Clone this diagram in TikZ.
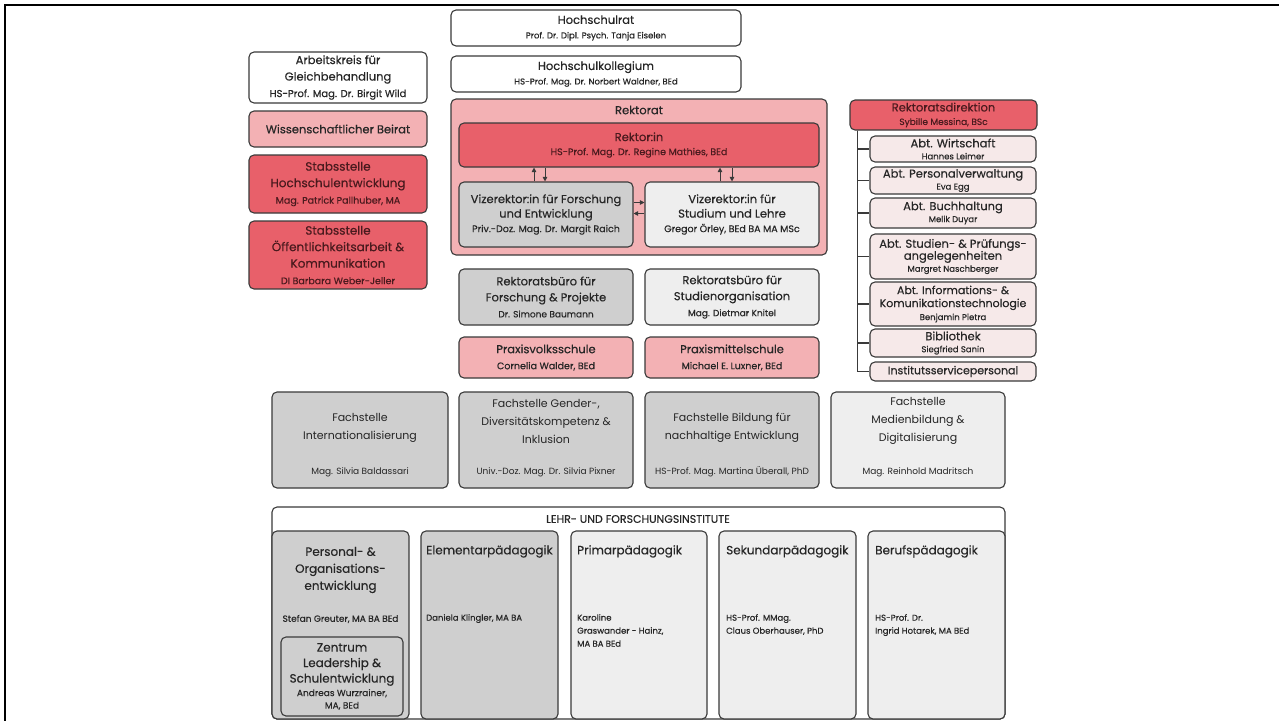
\documentclass[tikz,border=0pt]{standalone}
\usepackage{fontspec}
\setmainfont{Poppins}[FakeBold=0.35]
\newfontfamily\lightf{Poppins}
\usetikzlibrary{arrows.meta}
\definecolor{bd}{HTML}{3A3A3A}
\definecolor{pinkL}{HTML}{F3B1B4}
\definecolor{redM}{HTML}{E8606A}
\definecolor{grayM}{HTML}{CFCFCF}
\definecolor{grayL}{HTML}{EEEEEE}
\definecolor{pinkXL}{HTML}{F6E9E9}
\definecolor{txt}{HTML}{262626}
\definecolor{txtR}{HTML}{4A1A1E}
\newcommand{\T}{\fontsize{11.5}{16}\selectfont}
\newcommand{\Th}{\fontsize{11.5}{14.5}\selectfont}
\newcommand{\Tb}{\fontsize{12}{16.5}\selectfont}
\newcommand{\Sm}{\fontsize{9}{11}\selectfont}
\newcommand{\Sn}{\fontsize{9.5}{11}\selectfont}
\newcommand{\Sh}{\fontsize{8.5}{11}\selectfont}
\newcommand{\A}{\fontsize{11.5}{12}\selectfont}
\newcommand{\As}{\fontsize{8.5}{9}\selectfont}
\newcommand{\F}{\lightf\fontsize{11}{18}\selectfont}
\newcommand{\Fs}{\lightf\fontsize{9}{10}\selectfont}
\newcommand{\bx}[7]{\node[#6,minimum width={#4-#2},minimum height={#5-#3}] (#1) at ({(#2+#4)/2},{(#3+#5)/2}) {#7};}
\tikzset{
 box/.style={draw=bd, line width=1.1pt, rounded corners=5pt, inner sep=0pt, align=center, text=txt, font=\T},
 wbox/.style={box, fill=white},
 pbox/.style={box, fill=pinkL},
 rbox/.style={box, fill=redM, text=txtR},
 gbox/.style={box, fill=grayM},
 lbox/.style={box, fill=grayL},
 xbox/.style={box, fill=pinkXL, font=\A},
 arr/.style={-{Triangle[length=4.5pt,width=4.5pt]}, line width=0.9pt, draw=bd},
 lnk/.style={line width=1.1pt, draw=bd},
 lab/.style={inner sep=0pt, align=center, text=txt},
 labl/.style={inner sep=0pt, align=left, text=txt, anchor=north west},
}
\begin{document}
\begin{tikzpicture}[x=1pt,y=-1pt]
\useasboundingbox (0,0) rectangle (1279,720);
\fill[white] (0,0) rectangle (1279,720);
\draw[line width=2pt,black] (5,721) -- (5,5) -- (1280,5);
% top
\bx{hr}{451}{10}{741}{46}{wbox,font=\Th}{Hochschulrat\\{\Sh Prof. Dr. Dipl. Psych. Tanja Eiselen}}
\bx{hk}{451}{56}{741}{92}{wbox,font=\Th}{Hochschulkollegium\\{\Sh HS-Prof. Mag. Dr. Norbert Waldner, BEd}}
% left column
\bx{ak}{249}{52}{427}{103}{wbox,font=\fontsize{11.5}{16.5}\selectfont}{Arbeitskreis für\\Gleichbehandlung\\{\fontsize{10}{11}\selectfont HS-Prof. Mag. Dr. Birgit Wild}}
\bx{wb}{249}{111}{427}{147}{pbox}{Wissenschaftlicher Beirat}
\bx{she}{249}{155}{427}{213}{rbox,font=\Tb}{Stabsstelle\\Hochschulentwicklung\\{\Sn Mag. Patrick Pallhuber, MA}}
\bx{soa}{249}{221}{427}{289}{rbox,font=\Tb}{Stabsstelle\\Öffentlichkeitsarbeit \&\\Kommunikation\\{\Sn DI Barbara Weber-Jeller}}
% Rektorat
\bx{rkt}{451}{99}{827}{255}{pbox}{}
\node[lab,font=\T] (rktl) at (639,110) {Rektorat};
\bx{rek}{459}{123}{819}{167}{rbox,font=\fontsize{11.5}{14}\selectfont}{Rektor:in\\{\Sn HS-Prof. Mag. Dr. Regine Mathies, BEd}}
\bx{vrf}{459}{182}{633}{247}{gbox,font=\fontsize{11.5}{14.5}\selectfont}{Vizerektor:in für Forschung\\und Entwicklung\\{\Sn Priv.-Doz. Mag. Dr. Margit Raich}}
\bx{vrs}{645}{182}{819}{247}{lbox,font=\fontsize{11.5}{14.5}\selectfont}{Vizerektor:in für\\Studium und Lehre\\{\Sn Gregor Örley, BEd BA MA MSc}}
\draw[arr] ([xshift=-12pt]vrf.north) -- ([xshift=-12pt]vrf.north |- rek.south);
\draw[arr] ([xshift=-1pt]vrf.north |- rek.south) -- ([xshift=-1pt]vrf.north);
\draw[arr] ([xshift=-12pt]vrs.north) -- ([xshift=-12pt]vrs.north |- rek.south);
\draw[arr] ([xshift=0pt]vrs.north |- rek.south) -- ([xshift=0pt]vrs.north);
\draw[arr] ([yshift=12pt]vrf.east) -- ([yshift=12pt]vrs.west);
\draw[arr] ([yshift=1pt]vrs.west) -- ([yshift=1pt]vrf.east);
\bx{rbf}{459}{269}{633}{325}{gbox}{Rektoratsbüro für\\Forschung \& Projekte\\{\Sm Dr. Simone Baumann}}
\bx{rbs}{645}{269}{819}{325}{lbox}{Rektoratsbüro für\\Studienorganisation\\{\Sm Mag. Dietmar Knitel}}
\bx{pvs}{459}{337}{633}{378}{pbox}{Praxisvolksschule\\{\Sn Cornelia Walder, BEd}}
\bx{pms}{645}{337}{819}{378}{pbox}{Praxismittelschule\\{\Sn Michael E. Luxner, BEd}}
% Rektoratsdirektion
\bx{rd}{850}{100}{1037}{130}{rbox,font=\fontsize{11.5}{13.5}\selectfont}{Rektoratsdirektion\\{\fontsize{9}{9}\selectfont Sybille Messina, BSc}}
\bx{a1}{870}{136}{1036}{162}{xbox}{Abt. Wirtschaft\\{\As Hannes Leimer}}
\bx{a2}{870}{167}{1036}{194}{xbox}{Abt. Personalverwaltung\\{\As Eva Egg}}
\bx{a3}{870}{198}{1036}{228}{xbox}{Abt. Buchhaltung\\{\As Melik Duyar}}
\bx{a4}{870}{234}{1036}{279}{xbox}{Abt. Studien- \& Prüfungs-\\angelegenheiten\\{\As Margret Naschberger}}
\bx{a5}{870}{282}{1036}{326}{xbox,font=\fontsize{11}{13}\selectfont}{Abt. Informations- \&\\Komunikationstechnologie\\{\As Benjamin Pietra}}
\bx{a6}{870}{329}{1036}{357}{xbox}{Bibliothek\\{\As Siegfried Sanin}}
\bx{a7}{870}{362}{1036}{381}{xbox,font=\fontsize{11}{12}\selectfont}{Institutsservicepersonal}
\coordinate (trunk) at ([xshift=8pt]rd.south west);
\foreach \b in {a1,a2,a3,a4,a5,a6,a7} {\draw[lnk] (trunk) |- (\b.west);}
% Fachstellen
\bx{f1}{272}{392}{448}{488}{gbox}{}
\bx{f2}{459}{392}{633}{488}{gbox}{}
\bx{f3}{645}{392}{819}{488}{gbox}{}
\bx{f4}{831}{392}{1005}{488}{lbox}{}
\node[lab,font=\F] (f1t) at (360,428) {Fachstelle\\Internationalisierung};
\node[lab,font=\F] (f2t) at (546,421) {Fachstelle Gender-,\\Diversitätskompetenz \&\\Inklusion};
\node[lab,font=\F] (f3t) at (732,428) {Fachstelle Bildung für\\nachhaltige Entwicklung};
\node[lab,font=\F] (f4t) at (918,421) {Fachstelle\\Medienbildung \&\\Digitalisierung};
\node[lab,font=\Fs] (f1n) at (360,472) {Mag. Silvia Baldassari};
\node[lab,font=\Fs] (f2n) at (546,472) {Univ.-Doz. Mag. Dr. Silvia Pixner};
\node[lab,font=\Fs] (f3n) at (732,472) {HS-Prof. Mag. Martina Überall, PhD};
\node[lab,font=\Fs] (f4n) at (918,472) {Mag. Reinhold Madritsch};
% Institute
\bx{lfi}{272}{507}{1005}{719}{wbox}{}
\node[lab,font=\fontsize{11}{13}\selectfont] (lfit) at (638,519) {LEHR- UND FORSCHUNGSINSTITUTE};
\bx{i1}{272}{531}{409}{719}{gbox}{}
\bx{i2}{421}{531}{558}{719}{gbox}{}
\bx{i3}{571}{531}{707}{719}{lbox}{}
\bx{i4}{719}{531}{856}{719}{lbox}{}
\bx{i5}{868}{531}{1005}{719}{lbox}{}
\node[lab,font=\fontsize{12}{17}\selectfont] (i1t) at (340.5,570) {Personal- \&\\Organisations-\\entwicklung};
\node[lab,font=\Sm] (i1n) at (340.5,619) {Stefan Greuter, MA BA BEd};
\bx{zl}{281}{637}{403}{716}{gbox,font=\fontsize{12}{15.5}\selectfont}{Zentrum\\Leadership \&\\Schulentwicklung\\[-2pt]{\Sm Andreas Wurzrainer,}\\[-3pt]{\Sm MA, BEd}}
\node[labl,font=\fontsize{12}{14}\selectfont] (i2t) at (426,545) {Elementarpädagogik};
\node[labl,font=\fontsize{8.5}{13}\selectfont] (i2n) at (426,614) {Daniela Klingler, MA BA};
\node[labl,font=\fontsize{12}{14}\selectfont] (i3t) at (577,545) {Primarpädagogik};
\node[labl,font=\fontsize{8.5}{13}\selectfont] (i3n) at (577,614) {Karoline\\Graswander - Hainz,\\MA BA BEd};
\node[labl,font=\fontsize{12}{14}\selectfont] (i4t) at (726,545) {Sekundarpädagogik};
\node[labl,font=\fontsize{8.5}{13}\selectfont] (i4n) at (726,614) {HS-Prof. MMag.\\Claus Oberhauser, PhD};
\node[labl,font=\fontsize{12}{14}\selectfont] (i5t) at (875,545) {Berufspädagogik};
\node[labl,font=\fontsize{8.5}{13}\selectfont] (i5n) at (875,614) {HS-Prof. Dr.\\Ingrid Hotarek, MA BEd};
\end{tikzpicture}
\end{document}
